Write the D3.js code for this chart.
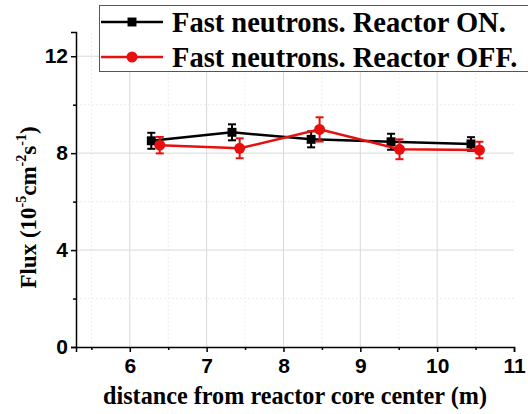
<!DOCTYPE html>
<html>
<head>
<meta charset="utf-8">
<script src="https://cdn.jsdelivr.net/npm/d3@7"></script>
<style>
  html, body { margin: 0; padding: 0; background: #fff; }
  svg { display: block; font-family: "Liberation Serif", "Times New Roman", Times, serif; font-weight: bold; }
</style>
</head>
<body>
<svg id="chart" width="528" height="414"></svg>
<script>
// distance from reactor core center (m)
const onX = [6.28, 7.33, 8.36, 9.40, 10.44];
const onY = [8.51, 8.86, 8.57, 8.47, 8.38];
const onErr = [0.33, 0.33, 0.33, 0.33, 0.28];

const offX = [6.39, 7.43, 8.47, 9.51, 10.55];
const offY = [8.33, 8.20, 8.98, 8.16, 8.13];
const offErr = [0.34, 0.41, 0.50, 0.41, 0.34];

const xTicks = [6, 7, 8, 9, 10, 11];
const xMinor = [5.5, 6.5, 7.5, 8.5, 9.5, 10.5];
const yTicks = [0, 4, 8, 12];
const yMinor = [2, 6, 10];

const legendLabels = ["Fast neutrons. Reactor ON.", "Fast neutrons. Reactor OFF."];

const svg = d3.select("#chart");
const margin = { left: 76, right: 14, top: 32, bottom: 67 };
const width = 528, height = 414;

const x = d3.scaleLinear().domain([5.3, 11]).range([margin.left, width - margin.right]);
const y = d3.scaleLinear().domain([0, 13]).range([height - margin.bottom, margin.top]);

// grid
const grid = svg.append("g");
grid.selectAll(".gx").data(xTicks.filter(d => d < 11)).join("line")
  .attr("x1", d => x(d)).attr("x2", d => x(d))
  .attr("y1", y(0)).attr("y2", y(13))
  .attr("stroke", "#d8d8d8").attr("stroke-width", 1);
grid.selectAll(".gxm").data(xMinor).join("line")
  .attr("x1", d => x(d)).attr("x2", d => x(d))
  .attr("y1", y(0)).attr("y2", y(13))
  .attr("stroke", "#eeeeee").attr("stroke-width", 1).attr("stroke-dasharray", "2,2");
grid.selectAll(".gy").data(yTicks.filter(d => d > 0)).join("line")
  .attr("x1", x(5.3)).attr("x2", x(11))
  .attr("y1", d => y(d)).attr("y2", d => y(d))
  .attr("stroke", "#d8d8d8").attr("stroke-width", 1);
grid.selectAll(".gym").data(yMinor).join("line")
  .attr("x1", x(5.3)).attr("x2", x(11))
  .attr("y1", d => y(d)).attr("y2", d => y(d))
  .attr("stroke", "#eeeeee").attr("stroke-width", 1).attr("stroke-dasharray", "2,2");

// axes
svg.append("g").attr("transform", `translate(0,${y(0)})`)
  .call(d3.axisBottom(x).tickValues(xTicks).tickFormat(d3.format("d")).tickSize(5).tickPadding(6));
svg.append("g").attr("transform", `translate(0,${y(0)})`)
  .call(d3.axisBottom(x).tickValues(xMinor).tickFormat("").tickSize(3))
  .call(g => g.select(".domain").remove());
svg.append("g").attr("transform", `translate(${x(5.3)},0)`)
  .call(d3.axisLeft(y).tickValues(yTicks).tickSize(5).tickPadding(3));
svg.append("g").attr("transform", `translate(${x(5.3)},0)`)
  .call(d3.axisLeft(y).tickValues(yMinor).tickFormat("").tickSize(3))
  .call(g => g.select(".domain").remove());

svg.selectAll(".domain").attr("stroke", "#000").attr("stroke-width", 1.5);
svg.selectAll(".tick line").attr("stroke", "#000").attr("stroke-width", 1.5);
svg.selectAll(".tick text").attr("font-family", null)
  .attr("font-size", 21).attr("fill", "#000");

// axis titles
svg.append("text")
  .attr("x", 295).attr("y", 404)
  .attr("text-anchor", "middle").attr("font-size", 24.2)
  .text("distance from reactor core center (m)");

const yt = svg.append("text")
  .attr("transform", `translate(36,${(y(0) + y(13)) / 2 + 18}) rotate(-90)`)
  .attr("text-anchor", "middle").attr("font-size", 23);
yt.append("tspan").text("Flux (10");
yt.append("tspan").attr("font-size", 14).attr("dy", -10).text("-5");
yt.append("tspan").attr("dy", 10).text("cm");
yt.append("tspan").attr("font-size", 14).attr("dy", -10).text("-2");
yt.append("tspan").attr("dy", 10).text("s");
yt.append("tspan").attr("font-size", 14).attr("dy", -10).text("-1");
yt.append("tspan").attr("dy", 10).text(")");

// series
function drawSeries(xs, ys, es, color, shape) {
  const pts = xs.map((d, i) => ({ x: d, y: ys[i], e: es[i] }));
  const g = svg.append("g");
  g.append("path").datum(pts)
    .attr("d", d3.line().x(d => x(d.x)).y(d => y(d.y)))
    .attr("fill", "none").attr("stroke", color).attr("stroke-width", 2.5);
  g.selectAll(".eb").data(pts).join("line")
    .attr("x1", d => x(d.x)).attr("x2", d => x(d.x))
    .attr("y1", d => y(d.y - d.e)).attr("y2", d => y(d.y + d.e))
    .attr("stroke", color).attr("stroke-width", 2);
  g.selectAll(".capt").data(pts).join("line")
    .attr("x1", d => x(d.x) - 4).attr("x2", d => x(d.x) + 4)
    .attr("y1", d => y(d.y + d.e)).attr("y2", d => y(d.y + d.e))
    .attr("stroke", color).attr("stroke-width", 2);
  g.selectAll(".capb").data(pts).join("line")
    .attr("x1", d => x(d.x) - 4).attr("x2", d => x(d.x) + 4)
    .attr("y1", d => y(d.y - d.e)).attr("y2", d => y(d.y - d.e))
    .attr("stroke", color).attr("stroke-width", 2);
  const sym = shape === "square" ? d3.symbolSquare : d3.symbolCircle;
  const size = shape === "square" ? 80 : 95;
  g.selectAll(".m").data(pts).join("path")
    .attr("transform", d => `translate(${x(d.x)},${y(d.y)})`)
    .attr("d", d3.symbol(sym, size)).attr("fill", color);
}
drawSeries(onX, onY, onErr, "#000", "square");
drawSeries(offX, offY, offErr, "#e8100f", "circle");

// legend
const lg = svg.append("g");
lg.append("rect").attr("x", 99.5).attr("y", 5.5).attr("width", 440).attr("height", 66)
  .attr("fill", "#fff").attr("stroke", "#555").attr("stroke-width", 1);
const legendColors = ["#000", "#e8100f"];
const legendShapes = [d3.symbolSquare, d3.symbolCircle];
legendLabels.forEach((label, i) => {
  const cy = 22 + i * 35;
  lg.append("line").attr("x1", 101).attr("x2", 163).attr("y1", cy).attr("y2", cy)
    .attr("stroke", legendColors[i]).attr("stroke-width", 2.5);
  lg.append("path").attr("transform", `translate(132,${cy})`)
    .attr("d", d3.symbol(legendShapes[i], i === 0 ? 80 : 95)).attr("fill", legendColors[i]);
  lg.append("text").attr("x", 172).attr("y", cy + 10)
    .attr("font-size", 28.5).text(label);
});
</script>
</body>
</html>
